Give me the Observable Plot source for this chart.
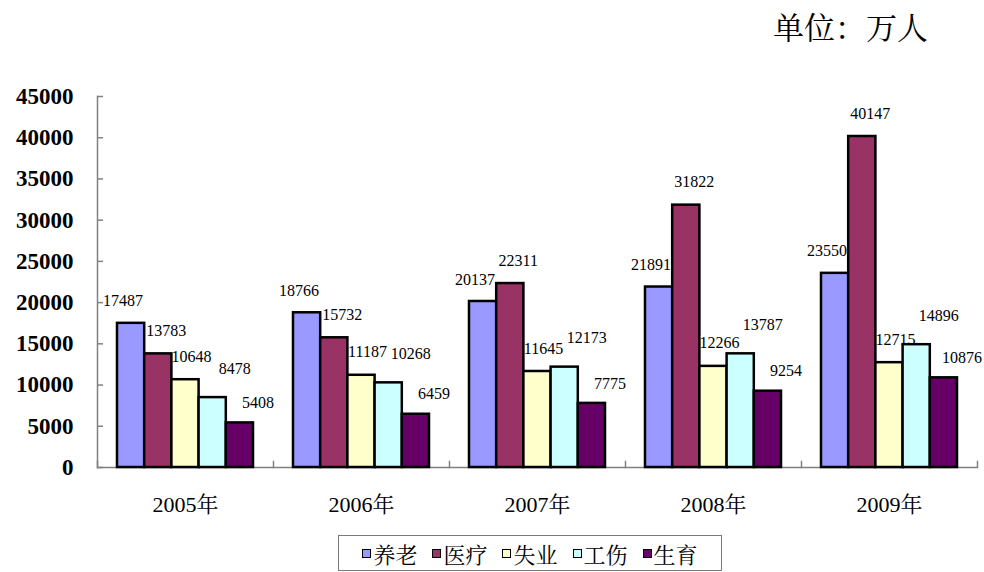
<!DOCTYPE html>
<html>
<head>
<meta charset="utf-8">
<script src="https://cdn.jsdelivr.net/npm/d3@7"></script>
<script src="https://cdn.jsdelivr.net/npm/@observablehq/plot@0.6"></script>
<style>
  html, body { margin: 0; padding: 0; background: #fff; }
  #wrap { position: relative; width: 984px; height: 572px; overflow: hidden; }
  #unit { position: absolute; right: 56px; top: 10px; font-family: "Noto Serif CJK SC", serif; font-size: 31px; line-height: 1; color: #000; }
  #chart { position: absolute; left: 0; top: 0; }
  #legend { position: absolute; left: 338px; top: 535px; width: 384px; height: 36px; border: 1px solid #7a7a7a; box-sizing: border-box;
            display: flex; align-items: center; justify-content: center; gap: 15px;
            font-family: "Noto Serif CJK SC", serif; font-size: 22px; color: #000; }
  #legend .item { display: flex; align-items: center; gap: 2px; }
  #legend .sw { width: 7px; height: 7px; border: 1.5px solid #000; }
</style>
</head>
<body>
<div id="wrap">
  <div id="chart"></div>
  <div id="unit">单位：万人</div>
  <div id="legend"></div>
</div>
<script>
const years = ["2005年", "2006年", "2007年", "2008年", "2009年"];
const series = ["养老", "医疗", "失业", "工伤", "生育"];
const pension      = [17487, 18766, 20137, 21891, 23550];
const medical      = [13783, 15732, 22311, 31822, 40147];
const unemployment = [10648, 11187, 11645, 12266, 12715];
const injury       = [8478, 10268, 12173, 13787, 14896];
const maternity    = [5408, 6459, 7775, 9254, 10876];
const yTicks = [0, 5000, 10000, 15000, 20000, 25000, 30000, 35000, 40000, 45000];

const seriesValues = [pension, medical, unemployment, injury, maternity];
const colors = ["#9999FF", "#993366", "#FFFFCC", "#CCFFFF", "#660066"];
// label offsets per series (style only)
const labelDx = {"养老": -8, "医疗": 8, "失业": 6, "工伤": 22, "生育": 18};
const labelDy = {"养老": -22, "医疗": -23, "失业": -23, "工伤": -29, "生育": -20};

const data = [];
years.forEach((y, i) => series.forEach((s, j) => data.push({year: y, series: s, value: seriesValues[j][i]})));

const numFont = "'Liberation Serif', 'Times New Roman', serif";

const chart = Plot.plot({
  width: 984,
  height: 530,
  marginTop: 96,
  marginBottom: 63,
  marginLeft: 96,
  marginRight: 7,
  style: {background: "transparent", overflow: "visible"},
  fx: {domain: years, padding: 0},
  x: {domain: series, paddingInner: 0, paddingOuter: 0.735, round: false, axis: null},
  y: {domain: [0, 45000], label: null},
  color: {domain: series, range: colors},
  marks: [
    Plot.ruleY([0], {stroke: "#808080", strokeWidth: 1.5}),
    Plot.frame({anchor: "left", facetAnchor: "left", stroke: "#808080", strokeWidth: 1.5}),
    Plot.frame({anchor: "left", stroke: "#808080", strokeWidth: 1.5, insetTop: 365}),
    Plot.frame({anchor: "right", facetAnchor: "right", stroke: "#808080", strokeWidth: 1.5, insetTop: 365}),
    Plot.barY(data, {fx: "year", x: "series", y: "value", fill: "series", stroke: "#000", strokeWidth: 2.5}),
    ...series.map(s => Plot.text(data, {
      filter: d => d.series === s,
      fx: "year", x: "series", y: "value",
      text: d => String(d.value),
      dx: labelDx[s], dy: labelDy[s],
      fontSize: 16, fontFamily: numFont, fill: "#000"
    })),
    Plot.axisY({ticks: yTicks, tickFormat: d => String(d), tickSize: -6, tickPadding: 30,
      fontSize: 23, fontWeight: "bold", fontFamily: numFont, stroke: "#808080", fill: "#000", strokeWidth: 1.5, label: null}),
    Plot.axisFx({anchor: "bottom", tickSize: 0, tickPadding: 29, fontSize: 22,
      fontFamily: "'Liberation Serif', 'Noto Serif CJK SC', serif", fill: "#000", label: null})
  ]
});
document.getElementById("chart").appendChild(chart);

const legend = document.getElementById("legend");
series.forEach((s, j) => {
  const item = document.createElement("div");
  item.className = "item";
  const sw = document.createElement("span");
  sw.className = "sw";
  sw.style.background = colors[j];
  const t = document.createElement("span");
  t.textContent = s;
  item.appendChild(sw);
  item.appendChild(t);
  legend.appendChild(item);
});
</script>
</body>
</html>
